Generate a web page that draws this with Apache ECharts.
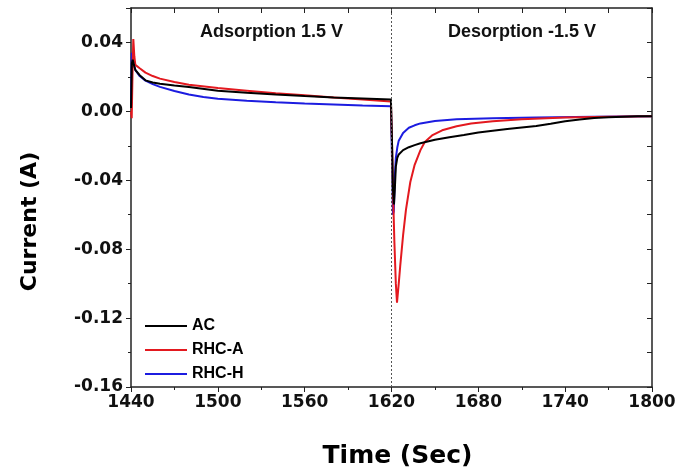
<!DOCTYPE html>
<html>
<head>
<meta charset="utf-8">
<script src="https://cdn.jsdelivr.net/npm/echarts@6/dist/echarts.min.js"></script>
<style>
  html, body { margin: 0; padding: 0; background: #fff; }
  #main { width: 677px; height: 469px; }
</style>
</head>
<body>
<div id="main"></div>
<script>
// 数据
var acTime = [1440, 1440.6, 1441.2, 1442, 1443, 1446, 1450, 1455, 1460, 1470, 1480, 1500, 1520, 1540, 1560, 1580, 1600, 1619.6,
  1620, 1620.4, 1621, 1621.7, 1622.3, 1623, 1624, 1625, 1628, 1632, 1636, 1640, 1645, 1650, 1660, 1670, 1680, 1690, 1700, 1710, 1720, 1730, 1740, 1750, 1760, 1770, 1780, 1790, 1800];
var acCurrent = [0.002, 0.028, 0.030, 0.027, 0.024, 0.021, 0.018, 0.0168, 0.016, 0.015, 0.0142, 0.012, 0.0108, 0.0098, 0.0089, 0.0081, 0.0075, 0.0069,
  0.0068, -0.02, -0.045, -0.054, -0.045, -0.032, -0.027, -0.025, -0.0225, -0.0208, -0.0196, -0.0185, -0.0175, -0.0165, -0.015, -0.0137, -0.0123, -0.0113, -0.0103, -0.0094, -0.0085, -0.0072, -0.0058, -0.0047, -0.0039, -0.0034, -0.0031, -0.0029, -0.0028];

var rhcaTime = [1440, 1440.5, 1441, 1441.6, 1442.3, 1443, 1446, 1450, 1455, 1460, 1470, 1480, 1500, 1520, 1540, 1560, 1580, 1600, 1619.6,
  1620, 1620.4, 1621, 1622, 1623, 1623.8, 1625, 1626, 1628, 1630, 1633, 1636, 1640, 1643, 1648, 1655, 1665, 1675, 1690, 1710, 1740, 1770, 1800];
var rhcaCurrent = [0.0, -0.004, 0.02, 0.042, 0.032, 0.027, 0.025, 0.0225, 0.0205, 0.019, 0.017, 0.0155, 0.0135, 0.012, 0.0105, 0.0093, 0.0081, 0.0069, 0.0057,
  0.0055, -0.02, -0.045, -0.076, -0.1, -0.111, -0.1, -0.09, -0.072, -0.057, -0.041, -0.031, -0.0225, -0.0178, -0.014, -0.011, -0.0086, -0.0071, -0.0057, -0.0046, -0.0036, -0.0031, -0.0029];

var rhchTime = [1440, 1440.6, 1441.2, 1442, 1443, 1446, 1450, 1455, 1460, 1470, 1480, 1490, 1500, 1520, 1540, 1560, 1580, 1600, 1619.6,
  1620, 1620.4, 1621, 1621.6, 1622.3, 1623, 1624, 1625, 1628, 1632, 1636, 1640, 1650, 1665, 1690, 1720, 1760, 1800];
var rhchCurrent = [0.003, 0.034, 0.031, 0.027, 0.024, 0.0205, 0.0178, 0.0158, 0.0142, 0.0118, 0.0098, 0.0083, 0.0073, 0.0061, 0.0053, 0.0046, 0.0040, 0.0034, 0.0029,
  0.0028, -0.03, -0.060, -0.058, -0.038, -0.027, -0.021, -0.017, -0.0125, -0.0095, -0.0081, -0.0070, -0.0056, -0.0046, -0.0040, -0.0035, -0.0031, -0.0029];

var seriesNames = ['AC', 'RHC-A', 'RHC-H'];
var seriesColors = ['#000000', '#e3191f', '#1c1ce0'];
var phaseLabels = ['Adsorption 1.5 V', 'Desorption -1.5 V'];
var switchTime = 1620;

function pairs(t, v) {
    return t.map(function (x, i) { return [x, v[i]]; });
}

var arialFam = 'Arial, "Liberation Sans", sans-serif';
var wideFam = '"DejaVu Sans", Arial, sans-serif';
var myChart = echarts.init(document.getElementById('main'));

var lineSeries = [pairs(acTime, acCurrent), pairs(rhcaTime, rhcaCurrent), pairs(rhchTime, rhchCurrent)].map(function (d, i) {
    return {
        name: seriesNames[i],
        type: 'line',
        data: d,
        showSymbol: false,
        symbol: 'none',
        animation: false,
        lineStyle: { color: seriesColors[i], width: 2 },
        itemStyle: { color: seriesColors[i] },
        z: 3 - i
    };
});
// 切换时刻的虚线
lineSeries[0].markLine = {
    silent: true,
    symbol: 'none',
    label: { show: false },
    lineStyle: { type: [2, 2], color: '#555', width: 1 },
    data: [{ xAxis: switchTime }]
};

var axisColor = '#222';
var option = {
    backgroundColor: '#fff',
    animation: false,
    grid: { left: 131, right: 25, top: 8, bottom: 82, outerBoundsMode: 'none', containLabel: false },
    legend: {
        data: seriesNames,
        orient: 'vertical',
        left: 140,
        top: 313,
        icon: 'rect',
        itemWidth: 42,
        itemHeight: 2,
        itemGap: 8,
        textStyle: { fontFamily: arialFam, fontWeight: 'bold', fontSize: 16, color: '#000' }
    },
    xAxis: [{
        type: 'value',
        min: 1440, max: 1800, interval: 60,
        name: 'Time (Sec)',
        nameLocation: 'middle',
        nameGap: 57,
        nameTextStyle: { fontFamily: wideFam, fontWeight: 'bold', fontSize: 25, color: '#000', padding: [0, 0, 0, 12] },
        axisLine: { show: true, onZero: false, lineStyle: { color: axisColor, width: 1.5 } },
        axisTick: { show: true, length: 5, lineStyle: { color: axisColor } },
        minorTick: { show: true, splitNumber: 2, length: 3, lineStyle: { color: axisColor } },
        splitLine: { show: false },
        axisLabel: {
            fontFamily: wideFam, fontWeight: 'bold', fontSize: 17, color: '#111', margin: 7,
            formatter: function (v) { return String(v); }
        }
    }, {
        type: 'value', position: 'top',
        min: 1440, max: 1800, interval: 60,
        axisLine: { show: true, onZero: false, lineStyle: { color: axisColor, width: 1.5 } },
        axisTick: { show: true, inside: true, length: 5, lineStyle: { color: axisColor } },
        minorTick: { show: true, splitNumber: 2, length: 5, lineStyle: { color: axisColor } },
        splitLine: { show: false },
        axisLabel: { show: false }
    }],
    yAxis: [{
        type: 'value',
        min: -0.16, max: 0.06, interval: 0.04,
        name: 'Current (A)',
        nameLocation: 'middle',
        nameGap: 90,
        nameTextStyle: { fontFamily: wideFam, fontWeight: 'bold', fontSize: 22, color: '#000', padding: [0, 48, 0, 0] },
        axisLine: { show: true, onZero: false, lineStyle: { color: axisColor, width: 1.5 } },
        axisTick: { show: true, length: 5, lineStyle: { color: axisColor } },
        minorTick: { show: true, splitNumber: 2, length: 3, lineStyle: { color: axisColor } },
        splitLine: { show: false },
        axisLabel: {
            fontFamily: wideFam, fontWeight: 'bold', fontSize: 17, color: '#111', margin: 8,
            showMaxLabel: false,
            formatter: function (v) { return v.toFixed(2); }
        }
    }, {
        type: 'value', position: 'right',
        min: -0.16, max: 0.06, interval: 0.04,
        axisLine: { show: true, onZero: false, lineStyle: { color: axisColor, width: 1.5 } },
        axisTick: { show: true, inside: true, length: 5, lineStyle: { color: axisColor } },
        minorTick: { show: true, splitNumber: 2, length: 5, lineStyle: { color: axisColor } },
        splitLine: { show: false },
        axisLabel: { show: false }
    }],
    graphic: [{
        type: 'text', left: 200, top: 23,
        style: { text: phaseLabels[0], font: 'bold 18px ' + arialFam, fill: '#111' }
    }, {
        type: 'text', left: 448, top: 23,
        style: { text: phaseLabels[1], font: 'bold 18px ' + arialFam, fill: '#111' }
    }],
    series: lineSeries
};
myChart.setOption(option);
</script>
</body>
</html>
